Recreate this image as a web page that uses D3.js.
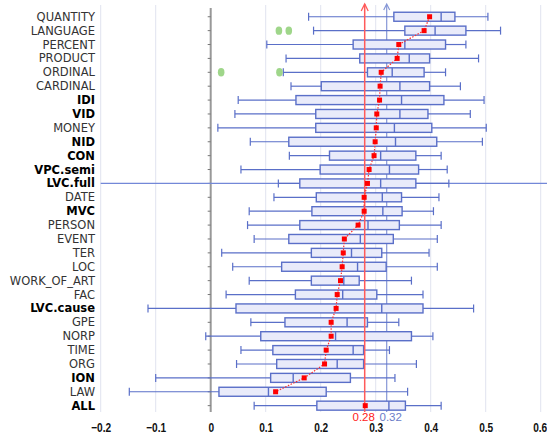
<!DOCTYPE html>
<html>
<head>
<meta charset="utf-8">
<script src="https://cdn.jsdelivr.net/npm/d3@7"></script>
<style>
  body { margin: 0; background: #fff; }
  svg { font-family: "DejaVu Sans", Verdana, sans-serif; }
</style>
</head>
<body>
<svg></svg>
<script>
const WIDTH = 547;
const HEIGHT = 434;

const categories = ['QUANTITY', 'LANGUAGE', 'PERCENT', 'PRODUCT', 'ORDINAL', 'CARDINAL', 'IDI', 'VID',
  'MONEY', 'NID', 'CON', 'VPC.semi', 'LVC.full', 'DATE', 'MVC', 'PERSON', 'EVENT', 'TER', 'LOC',
  'WORK_OF_ART', 'FAC', 'LVC.cause', 'GPE', 'NORP', 'TIME', 'ORG', 'ION', 'LAW', 'ALL'];
const boldCats = ['IDI', 'VID', 'NID', 'CON', 'VPC.semi', 'LVC.full', 'MVC', 'LVC.cause', 'ION', 'ALL'];

// whisker low, q1, median, q3, whisker high
const lows    = [0.178, 0.187, 0.102, 0.137, 0.132, 0.146, 0.050, 0.044, 0.013, 0.072, 0.143, 0.055, 0.123, 0.115, 0.070,
  0.067, 0.079, 0.020, 0.040, 0.070, 0.028, -0.114, 0.073, -0.009, 0.055, 0.047, -0.100, -0.148, 0.079];
const q1s     = [0.333, 0.353, 0.259, 0.271, 0.285, 0.201, 0.155, 0.191, 0.191, 0.142, 0.216, 0.199, 0.162, 0.192, 0.184,
  0.162, 0.142, 0.183, 0.129, 0.183, 0.154, 0.046, 0.135, 0.091, 0.113, 0.120, 0.109, 0.015, 0.193];
const medians = [0.419, 0.408, 0.353, 0.361, 0.330, 0.344, 0.347, 0.344, 0.334, 0.336, 0.309, 0.325, 0.309, 0.312, 0.313,
  0.286, 0.272, 0.256, 0.267, 0.242, 0.240, 0.311, 0.248, 0.227, 0.259, 0.230, 0.150, 0.105, 0.324];
const q3s     = [0.444, 0.464, 0.427, 0.398, 0.388, 0.398, 0.424, 0.395, 0.402, 0.411, 0.373, 0.378, 0.373, 0.347, 0.348,
  0.343, 0.332, 0.311, 0.319, 0.270, 0.302, 0.386, 0.285, 0.365, 0.278, 0.278, 0.254, 0.210, 0.354];
const highs   = [0.504, 0.527, 0.464, 0.487, 0.427, 0.454, 0.497, 0.472, 0.501, 0.494, 0.419, 0.430, 0.433, 0.415, 0.405,
  0.419, 0.412, 0.397, 0.412, 0.365, 0.386, 0.478, 0.342, 0.404, 0.325, 0.374, 0.335, 0.358, 0.419];
const means   = [0.398, 0.388, 0.342, 0.339, 0.310, 0.308, 0.307, 0.302, 0.301, 0.299, 0.297, 0.288, 0.285, 0.279, 0.279,
  0.268, 0.243, 0.241, 0.239, 0.236, 0.230, 0.228, 0.219, 0.219, 0.210, 0.207, 0.170, 0.118, 0.281];

const outlierCats = ['LANGUAGE', 'LANGUAGE', 'ORDINAL', 'ORDINAL'];
const outlierVals = [0.124, 0.142, 0.019, 0.125];

const xTicks = [-0.2, -0.1, 0, 0.1, 0.2, 0.3, 0.4, 0.5, 0.6];
const meanAll = 0.28;
const medianAll = 0.32;

const svg = d3.select('svg').attr('width', WIDTH).attr('height', HEIGHT);

const x = d3.scaleLinear().domain([-0.2, 0.6]).range([100.7, 540.7]);
const y = d3.scaleBand().domain(categories).range([9.8, 412.6]);
const cy = c => y(c) + y.bandwidth() / 2;
const BOX_H = 9;
const BLUE = '#5a6fc8';
const NUMFONT = '"Liberation Sans", Arial, sans-serif';

// grid lines
svg.append('g')
  .selectAll('line')
  .data(xTicks.filter(d => d !== 0))
  .enter()
  .append('line')
  .attr('x1', d => x(d)).attr('x2', d => x(d))
  .attr('y1', 5).attr('y2', 412)
  .attr('stroke', '#e0e3ef')
  .attr('stroke-width', 1);

// x axis labels (bold, squeezed)
svg.append('g')
  .attr('transform', 'translate(0,412)')
  .call(d3.axisBottom(x).tickValues(xTicks).tickSize(0)
    .tickFormat(d => d === 0 ? '0' : d3.format('.1f')(d)))
  .call(g => g.select('.domain').remove())
  .call(g => g.selectAll('text')
    .attr('y', 10.5)
    .attr('transform', d => d === 0.6 ? 'translate(-1,0) scale(0.78,1)' : 'scale(0.78,1)')
    .attr('font-family', NUMFONT)
    .attr('font-size', 13).attr('font-weight', 'bold').attr('fill', '#111'));

// vertical y axis at 0
const yAxis = svg.append('g')
  .attr('transform', `translate(${x(0)},0)`)
  .call(d3.axisLeft(y).tickSize(3).tickFormat(''));
yAxis.select('.domain').attr('stroke', '#999').attr('stroke-width', 2).attr('d', 'M0,8V412');
yAxis.selectAll('.tick line').attr('stroke', '#777');

// category labels
svg.append('g')
  .selectAll('text')
  .data(categories)
  .enter()
  .append('text')
  .attr('x', 95)
  .attr('y', d => cy(d))
  .attr('dy', '0.35em')
  .attr('text-anchor', 'end')
  .attr('font-size', 11.5)
  .attr('font-weight', d => boldCats.includes(d) ? 'bold' : 'normal')
  .attr('fill', d => boldCats.includes(d) ? '#000' : '#333')
  .text(d => d);

// long reference line on LVC.full row
svg.append('line')
  .attr('x1', x(-0.2)).attr('x2', WIDTH)
  .attr('y1', cy('LVC.full')).attr('y2', cy('LVC.full'))
  .attr('stroke', '#7388d8').attr('stroke-width', 1.2);

// median-of-all line
svg.append('line')
  .attr('x1', x(medianAll)).attr('x2', x(medianAll))
  .attr('y1', 5).attr('y2', 412)
  .attr('stroke', '#8596d6').attr('stroke-width', 1.2);
svg.append('path')
  .attr('d', `M${x(medianAll) - 3},10L${x(medianAll)},4L${x(medianAll) + 3},10`)
  .attr('fill', 'none').attr('stroke', '#8596d6').attr('stroke-width', 1.2);

// boxes
const rows = categories.map((c, i) => ({
  cat: c, lo: lows[i], q1: q1s[i], med: medians[i], q3: q3s[i], hi: highs[i], mean: means[i]
}));

const box = svg.append('g').selectAll('g').data(rows).enter().append('g');
box.append('line')
  .attr('x1', d => x(d.lo)).attr('x2', d => x(d.q1))
  .attr('y1', d => cy(d.cat)).attr('y2', d => cy(d.cat))
  .attr('stroke', BLUE).attr('stroke-width', 1.2);
box.append('line')
  .attr('x1', d => x(d.q3)).attr('x2', d => x(d.hi))
  .attr('y1', d => cy(d.cat)).attr('y2', d => cy(d.cat))
  .attr('stroke', BLUE).attr('stroke-width', 1.2);
box.append('line')
  .attr('x1', d => x(d.lo)).attr('x2', d => x(d.lo))
  .attr('y1', d => cy(d.cat) - 4).attr('y2', d => cy(d.cat) + 4)
  .attr('stroke', BLUE).attr('stroke-width', 1.2);
box.append('line')
  .attr('x1', d => x(d.hi)).attr('x2', d => x(d.hi))
  .attr('y1', d => cy(d.cat) - 4).attr('y2', d => cy(d.cat) + 4)
  .attr('stroke', BLUE).attr('stroke-width', 1.2);
box.append('rect')
  .attr('x', d => x(d.q1))
  .attr('y', d => cy(d.cat) - BOX_H / 2)
  .attr('width', d => x(d.q3) - x(d.q1))
  .attr('height', BOX_H)
  .attr('fill', '#e9ebfa')
  .attr('stroke', BLUE).attr('stroke-width', 1.4);
box.append('line')
  .attr('x1', d => x(d.med)).attr('x2', d => x(d.med))
  .attr('y1', d => cy(d.cat) - BOX_H / 2).attr('y2', d => cy(d.cat) + BOX_H / 2)
  .attr('stroke', BLUE).attr('stroke-width', 1.4);

// outliers
svg.append('g')
  .selectAll('ellipse')
  .data(outlierVals)
  .enter()
  .append('ellipse')
  .attr('cx', d => x(d))
  .attr('cy', (d, i) => cy(outlierCats[i]))
  .attr('rx', 3.3).attr('ry', 4.2)
  .attr('fill', '#9fd68a');

// mean-of-all line
svg.append('line')
  .attr('x1', x(meanAll)).attr('x2', x(meanAll))
  .attr('y1', 4).attr('y2', 412)
  .attr('stroke', '#ff5a5a').attr('stroke-width', 1.5);
svg.append('path')
  .attr('d', `M${x(meanAll) - 3.5},11L${x(meanAll)},4L${x(meanAll) + 3.5},11`)
  .attr('fill', 'none').attr('stroke', '#ff5a5a').attr('stroke-width', 1.3);

// dotted mean trend (all rows except ALL)
const trend = rows.filter(d => d.cat !== 'ALL');
svg.append('path')
  .datum(trend)
  .attr('d', d3.line().x(d => x(d.mean)).y(d => cy(d.cat)))
  .attr('fill', 'none')
  .attr('stroke', '#ff3030')
  .attr('stroke-width', 1.2)
  .attr('stroke-dasharray', '1.5,1.5');

svg.append('g')
  .selectAll('rect')
  .data(rows)
  .enter()
  .append('rect')
  .attr('x', d => x(d.mean) - 2.5)
  .attr('y', d => cy(d.cat) - 2.5)
  .attr('width', 5).attr('height', 5)
  .attr('fill', '#ff0000');

// value labels
const valueLabels = [
  {v: meanAll, dx: -1, color: '#ff2020'},
  {v: medianAll, dx: 4, color: '#6a7cc8'}
];
svg.append('g')
  .selectAll('text')
  .data(valueLabels)
  .enter()
  .append('text')
  .attr('x', d => x(d.v) + d.dx)
  .attr('y', 421)
  .attr('text-anchor', 'middle')
  .attr('font-family', NUMFONT)
  .attr('font-size', 11.5)
  .attr('fill', d => d.color)
  .text(d => d3.format('.2f')(d.v));
</script>
</body>
</html>
